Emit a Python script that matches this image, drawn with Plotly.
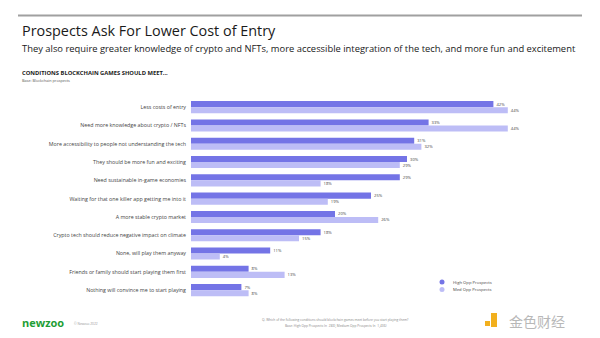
import plotly.graph_objects as go

categories = [
    "Less costs of entry",
    "Need more knowledge about crypto / NFTs",
    "More accessibility to people not understanding the tech",
    "They should be more fun and exciting",
    "Need sustainable in-game economies",
    "Waiting for that one killer app getting me into it",
    "A more stable crypto market",
    "Crypto tech should reduce negative impact on climate",
    "None, will play them anyway",
    "Friends or family should start playing them first",
    "Nothing will convince me to start playing",
]
high_opp = [42, 33, 31, 30, 29, 25, 20, 18, 11, 8, 7]
med_opp = [44, 44, 32, 29, 18, 19, 26, 15, 4, 13, 8]
series_names = ["High Opp Prospects", "Med Opp Prospects"]

W, H = 600, 338
DARK = "#7474e6"
LIGHT = "#bdbdf6"

def px(x):
    return x / W

def py(y):
    return 1 - y / H

fig = go.Figure()
for name, vals, col in [(series_names[0], high_opp, DARK), (series_names[1], med_opp, LIGHT)]:
    fig.add_trace(go.Bar(
        y=categories, x=vals, orientation="h", name=name,
        marker=dict(color=col, line=dict(width=0)),
        text=[f"{v}%" for v in vals], textposition="outside",
        textfont=dict(size=5.5, color="#444", family="Open Sans"),
        cliponaxis=False, showlegend=False,
    ))

fig.update_layout(
    width=W, height=H, margin=dict(l=0, r=0, t=0, b=0),
    paper_bgcolor="white", plot_bgcolor="white",
    barmode="group", bargap=0.34, bargroupgap=0.0,
    xaxis=dict(domain=[px(191), px(551)], range=[0, 50], visible=False),
    yaxis=dict(domain=[py(299.3), py(98)], autorange="reversed",
               showgrid=False, zeroline=False, showline=False, ticks="",
               ticklabelstandoff=4,
               tickfont=dict(size=5.3, color="#444", family="Open Sans")),
    font=dict(family="Open Sans"),
)

ann = []
def text(x, y, s, size, color="#222", family="Open Sans", anchor="left", yanchor="middle", bold=False):
    if bold:
        s = f"<b>{s}</b>"
    ann.append(dict(x=px(x), y=py(y), xref="paper", yref="paper", text=s, showarrow=False,
                    xanchor=anchor, yanchor=yanchor, font=dict(size=size, color=color, family=family)))

# top rule
shapes = [dict(type="line", xref="paper", yref="paper", x0=px(18), x1=px(582), y0=py(15.5), y1=py(15.5),
               line=dict(color="#a0a0a0", width=2), layer="above")]

text(20, 30.5, "Prospects Ask For Lower Cost of Entry", 14.4, "#1a1a1a", "Open Sans")
text(20, 48, "They also require greater knowledge of crypto and NFTs, more accessible integration of the tech, and more fun and excitement", 9.4, "#1a1a1a", "Open Sans")
text(20, 73, "CONDITIONS BLOCKCHAIN GAMES SHOULD MEET...", 5.8, "#1a1a1a", "Open Sans", bold=True)
text(20, 80, "Base: Blockchain prospects", 3.8, "#555", "Open Sans")

# legend
for i, (name, col) in enumerate(zip(series_names, [DARK, LIGHT])):
    yy = 282 + i * 7.5
    shapes.append(dict(type="circle", xref="paper", yref="paper",
                       x0=px(439.5), x1=px(444.5), y0=py(yy + 2.5), y1=py(yy - 2.5),
                       fillcolor=col, line=dict(width=0)))
    text(451, yy, name, 4.2, "#444", "Open Sans")

# footer
text(20, 322, "<b>newzoo</b>", 11, "#1e9e35", "Open Sans")
text(72, 323, "© Newzoo 2022", 3.2, "#999", "Open Sans")
text(335, 320, "Q. Which of the following conditions should blockchain games meet before you start playing them?", 3.2, "#888", "Open Sans", anchor="center")
text(335, 326, "Base: High Opp Prospects (n=283), Medium Opp Prospects (n=1,436)", 3.2, "#888", "Open Sans", anchor="center")

# watermark
shapes.append(dict(type="rect", xref="paper", yref="paper", x0=px(485), x1=px(490), y0=py(326), y1=py(321),
                   fillcolor="#f2b01e", line=dict(width=0)))
shapes.append(dict(type="rect", xref="paper", yref="paper", x0=px(491), x1=px(497), y0=py(327), y1=py(313),
                   fillcolor="#f2b01e", line=dict(width=0)))
text(507, 321, "金色财经", 14, "#b8b8b8", "Noto Sans CJK SC")

fig.update_layout(annotations=ann, shapes=shapes)
fig.write_html("out.html", config={"displayModeBar": False})
